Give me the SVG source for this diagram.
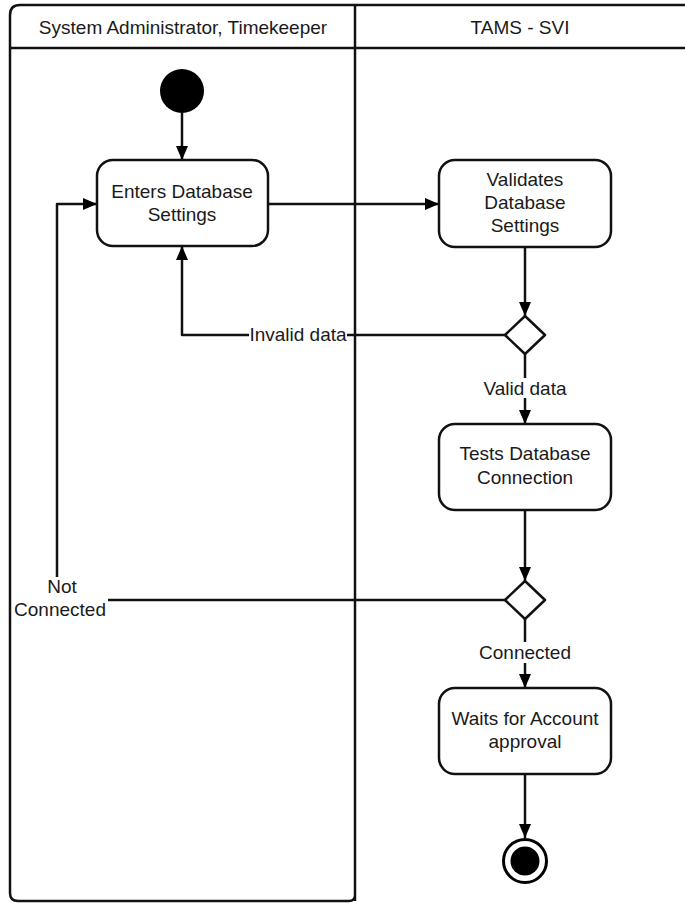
<svg xmlns="http://www.w3.org/2000/svg" width="685" height="903" viewBox="0 0 685 903">
<defs>
<marker id="arr" viewBox="0 0 14 12" refX="14" refY="6" markerWidth="14" markerHeight="12" markerUnits="userSpaceOnUse" orient="auto">
<path d="M0,0 L14,6 L0,12 Z" fill="#000"/>
</marker>
</defs>
<style>
text{font-family:"Liberation Sans",Arial,sans-serif;font-size:19px;fill:#1a1a1a;text-anchor:middle;dominant-baseline:central}
.frame{fill:none;stroke:#111;stroke-width:2.5}
.act{fill:#fff;stroke:#111;stroke-width:2.5}
.dec{fill:#fff;stroke:#111;stroke-width:2.5;stroke-linejoin:round}
.edge{fill:none;stroke:#111;stroke-width:2.5;stroke-linejoin:round}
.bg{fill:#fff}
</style>
<rect width="685" height="903" fill="#fff"/>
<g id="lanes">
<path class="frame" d="M355,901 V5 M685,5 H20 Q10,5 10,15 V893 Q10,901 18,901 H349 Q355,901 355,895 M10,48 H685"/>
<text x="183" y="27">System Administrator, Timekeeper</text>
<text x="520" y="27">TAMS - SVI</text>
</g>
<g id="connectors">
<path class="edge" d="M182,113 V160" marker-end="url(#arr)"/>
<path class="edge" d="M268,204 H439" marker-end="url(#arr)"/>
<path class="edge" d="M525,247 V316" marker-end="url(#arr)"/>
<path class="edge" d="M505,335 H182 V246" marker-end="url(#arr)"/>
<rect class="bg" x="249" y="325" width="98" height="20"/>
<text x="298" y="334">Invalid data</text>
<path class="edge" d="M525,354 V424" marker-end="url(#arr)"/>
<rect class="bg" x="477" y="378" width="96" height="20"/>
<text x="525" y="388">Valid data</text>
<path class="edge" d="M525,510 V581" marker-end="url(#arr)"/>
<path class="edge" d="M505,600 H57 V204 H97" marker-end="url(#arr)"/>
<rect class="bg" x="12" y="577" width="96" height="42"/>
<text x="62" y="586">Not</text>
<text x="60" y="609">Connected</text>
<path class="edge" d="M525,619 V688" marker-end="url(#arr)"/>
<rect class="bg" x="476" y="642" width="98" height="21"/>
<text x="525" y="652">Connected</text>
<path class="edge" d="M525,774 V838" marker-end="url(#arr)"/>
</g>
<g id="start">
<circle cx="182" cy="91" r="22" fill="#000"/>
</g>
<g id="enters">
<rect class="act" x="97" y="160" width="171" height="86" rx="16"/>
<text x="182" y="191">Enters Database</text>
<text x="182" y="214">Settings</text>
</g>
<g id="validates">
<rect class="act" x="439" y="160" width="172" height="87" rx="16"/>
<text x="525" y="179">Validates</text>
<text x="525" y="202">Database</text>
<text x="525" y="225">Settings</text>
</g>
<g id="decision1">
<path class="dec" d="M525,316 L545,335 L525,354 L505,335 Z"/>
</g>
<g id="tests">
<rect class="act" x="439" y="424" width="172" height="86" rx="16"/>
<text x="525" y="453">Tests Database</text>
<text x="525" y="477">Connection</text>
</g>
<g id="decision2">
<path class="dec" d="M525,581 L545,600 L525,619 L505,600 Z"/>
</g>
<g id="waits">
<rect class="act" x="439" y="688" width="172" height="86" rx="16"/>
<text x="525" y="718">Waits for Account</text>
<text x="525" y="741">approval</text>
</g>
<g id="end">
<circle cx="525" cy="861" r="21.5" fill="#fff" stroke="#000" stroke-width="3"/>
<circle cx="525" cy="861" r="14.5" fill="#000"/>
</g>
</svg>
